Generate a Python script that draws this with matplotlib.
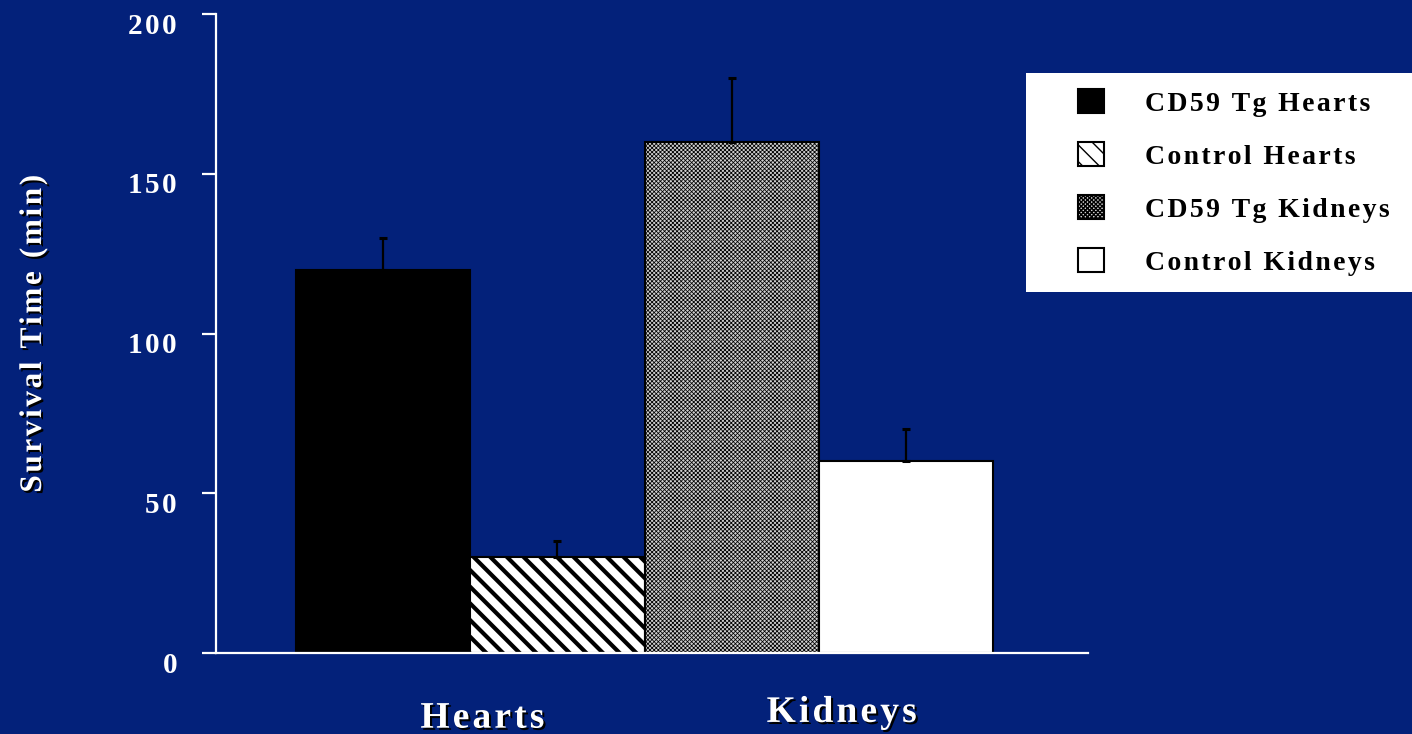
import matplotlib
matplotlib.use("Agg")
import matplotlib.pyplot as plt
import matplotlib.patheffects as pe
from matplotlib.patches import Rectangle
from matplotlib.transforms import ScaledTranslation

# survival data (minutes), mean and upper error
groups = ["Hearts", "Kidneys"]
series = ["CD59 Tg Hearts", "Control Hearts", "CD59 Tg Kidneys", "Control Kidneys"]
means = [120, 30, 160, 60]
errors = [10, 5, 20, 10]
yticks = [0, 50, 100, 150, 200]

BG = "#03217a"
W, H = 1412, 734
HAIR = "\u200a"


def spaced(s):
    # loose tracking, the slide font is set wide
    return HAIR.join(s)


plt.rcParams["font.family"] = ["Liberation Serif", "DejaVu Serif"]
plt.rcParams["font.weight"] = "bold"
plt.rcParams["axes.labelweight"] = "bold"

fig = plt.figure(figsize=(W / 100, H / 100), dpi=100, facecolor=BG)
ax = fig.add_axes([216 / W, 1 - 653 / H, (1088 - 216) / W, (653 - 14) / H])
ax.set_facecolor(BG)

faces = ["black", "white", "#cfcfcf", "white"]
hatches = [None, "\\\\", "xxxxxxxx", None]
hatch_lw = [1.0, 3.0, 0.55, 1.0]

x = list(range(len(means)))
bars = ax.bar(x, means, width=1.0, color=faces, edgecolor="black", linewidth=1.5, zorder=2)
for b, h, lw in zip(bars, hatches, hatch_lw):
    if h:
        b.set_hatch(h)
        if hasattr(b, "set_hatch_linewidth"):
            b.set_hatch_linewidth(lw)

ax.errorbar(x, means, yerr=[[0] * len(errors), errors], fmt="none", ecolor="black",
            elinewidth=1.6, capsize=3, capthick=2.2, zorder=3)

ax.set_xlim(-0.957, 4.043)
ax.set_ylim(0, 200)
ax.set_yticks(yticks)
ax.set_yticklabels([spaced(str(v)) for v in yticks])
ax.set_xticks([])
for side in ("top", "right"):
    ax.spines[side].set_visible(False)
for side in ("left", "bottom"):
    ax.spines[side].set_color("white")
    ax.spines[side].set_linewidth(1.6)
ax.tick_params(axis="y", colors="white", direction="out", length=10, width=1.6,
               pad=18, labelsize=21)
drop = ScaledTranslation(0, -6.5 / 72, fig.dpi_scale_trans)
for lbl in ax.get_yticklabels():
    lbl.set_transform(lbl.get_transform() + drop)

shadow = [pe.withSimplePatchShadow(offset=(1.5, -1.5), shadow_rgbFace="black", alpha=1.0)]
ax.set_ylabel(spaced("Survival Time (min)"), color="white", fontsize=22.5,
              fontweight="bold", labelpad=58, path_effects=shadow)

ax.text(0.57, -0.102, spaced(groups[0]), transform=ax.get_xaxis_transform(), color="white",
        fontsize=27, ha="center", va="center", path_effects=shadow)
ax.text(2.63, -0.093, spaced(groups[1]), transform=ax.get_xaxis_transform(), color="white",
        fontsize=27, ha="center", va="center", path_effects=shadow)

# white legend panel running off the right edge
fig.patches.append(Rectangle((1026 / W, 1 - 292 / H), (W - 1026) / W + 0.01, (292 - 73) / H,
                             transform=fig.transFigure, facecolor="white", edgecolor="none",
                             zorder=1))
fig.legend(handles=list(bars), labels=[spaced(s) for s in series], loc="upper left",
           bbox_to_anchor=(1078 / W, 1 - 89 / H), frameon=False, borderpad=0,
           borderaxespad=0, handlelength=0.95, handleheight=0.95, handletextpad=1.45,
           labelspacing=0.92, prop={"weight": "bold", "size": 20})

fig.savefig("out.png", dpi=100, facecolor=BG)
